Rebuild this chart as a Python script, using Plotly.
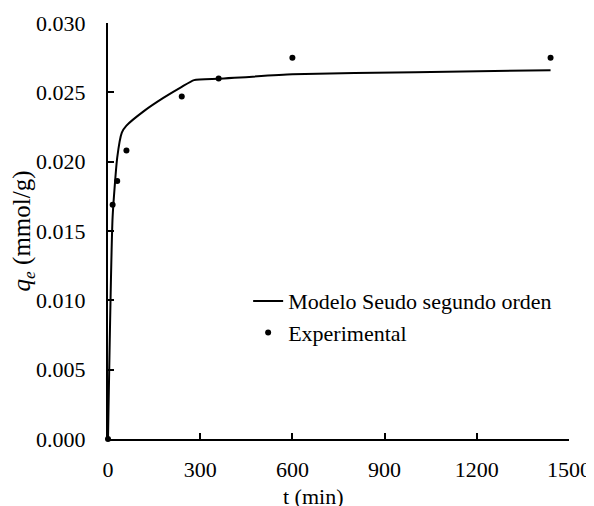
import plotly.graph_objects as go

# Experimental data
t_exp = [0, 15, 30, 60, 240, 360, 600, 1440]
q_exp = [0.0, 0.0169, 0.0186, 0.0208, 0.0247, 0.0260, 0.0275, 0.0275]

# Pseudo-second-order model curve
t_mod = [0, 15, 30, 45, 60, 120, 180, 240, 280, 360, 600, 1000, 1440]
q_mod = [0.0, 0.0160, 0.0203, 0.0221, 0.0226, 0.0237, 0.0246, 0.0254, 0.02588, 0.02598, 0.0263, 0.02645, 0.0266]

x_ticks = [0, 300, 600, 900, 1200, 1500]
y_ticks = [0.000, 0.005, 0.010, 0.015, 0.020, 0.025, 0.030]

FONT = "Liberation Serif"
FS = 22

fig = go.Figure()
fig.add_trace(go.Scatter(
    x=t_mod, y=q_mod, mode="lines", name="Modelo Seudo segundo orden",
    line=dict(color="black", width=2, shape="spline", smoothing=0.5),
    cliponaxis=False,
))
fig.add_trace(go.Scatter(
    x=t_exp, y=q_exp, mode="markers", name="Experimental",
    marker=dict(color="black", size=6),
    cliponaxis=False,
))

fig.update_layout(
    width=586, height=498,
    margin=dict(l=100, r=25, t=15, b=67, autoexpand=False),
    paper_bgcolor="white", plot_bgcolor="white",
    font=dict(family=FONT, size=FS, color="black"),
    showlegend=True,
    legend=dict(
        x=0.304, y=0.382, xanchor="left", yanchor="top",
        bgcolor="rgba(0,0,0,0)", itemwidth=30,
        font=dict(family=FONT, size=FS, color="black"),
        tracegroupgap=0,
    ),
    xaxis=dict(
        range=[0, 1500], tickvals=x_ticks, ticktext=[str(v) for v in x_ticks],
        showline=True, linecolor="black", linewidth=2,
        ticks="inside", ticklen=6, tickwidth=2, tickcolor="black",
        showgrid=False, zeroline=False, ticklabelstandoff=10,
        tickfont=dict(family=FONT, size=FS), automargin=False,
    ),
    yaxis=dict(
        range=[0, 0.030], tickvals=y_ticks, ticktext=[f"{v:.3f}" for v in y_ticks],
        showline=True, linecolor="black", linewidth=2,
        ticks="inside", ticklen=6, tickwidth=2, tickcolor="black",
        showgrid=False, zeroline=False, ticklabelstandoff=16,
        tickfont=dict(family=FONT, size=FS), automargin=False,
        title=dict(text="<i>q<sub>e</sub></i> (mmol/g)", font=dict(family=FONT, size=25), standoff=4),
    ),
    annotations=[dict(
        text="t (min)", xref="paper", yref="paper", x=0.445, y=0, yshift=-43,
        xanchor="center", yanchor="top", showarrow=False,
        font=dict(family=FONT, size=FS, color="black"),
    )],
)

fig.write_html("out.html")
